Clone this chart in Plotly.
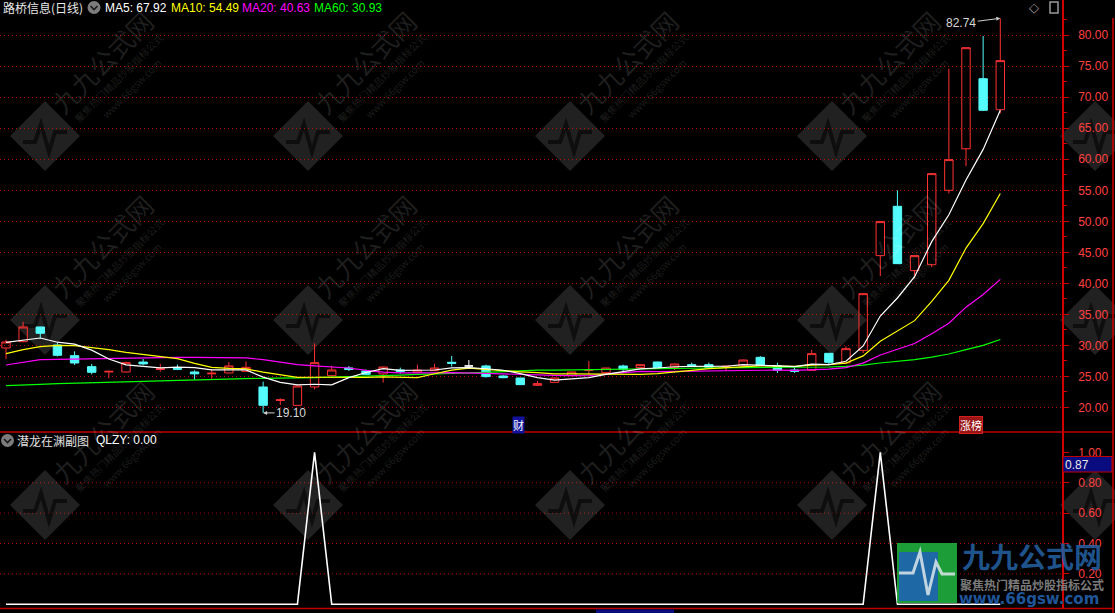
import plotly.graph_objects as go

# ---------------- data ----------------
idx = list(range(59))
open_ = [29.57, 30.59, 32.96, 30.05, 28.33, 26.56, 25.70, 25.70, 27.30, 26.10,
         26.25, 25.70, 25.40, 25.54, 25.80, 23.28, 21.10, 20.32, 23.28, 25.10,
         26.35, 25.86, 25.38, 26.02, 25.65, 25.91, 27.26, 26.67, 26.67, 25.05,
         24.73, 23.55, 24.03, 25.11, 25.97, 25.59, 26.67, 26.40, 27.31, 26.45,
         26.88, 26.88, 26.55, 26.67, 28.06, 26.72, 26.02, 25.97, 28.71, 27.15,
         29.19, 44.46, 52.42, 42.04, 43.00, 55.00, 61.70, 73.00, 68.00]
high = [30.90, 33.80, 33.00, 30.40, 29.03, 26.99, 25.97, 27.37, 27.80, 27.00,
        26.90, 25.97, 26.10, 27.30, 27.40, 24.14, 21.45, 23.50, 30.30, 26.72,
        26.67, 26.13, 26.55, 26.40, 26.88, 27.04, 28.28, 27.63, 26.88, 25.20,
        24.75, 24.25, 24.80, 25.75, 27.47, 26.40, 26.88, 26.95, 27.35, 27.05,
        27.20, 27.20, 26.70, 27.70, 28.28, 27.20, 26.34, 29.30, 28.75, 29.84,
        38.40, 50.00, 55.00, 44.50, 57.75, 74.60, 78.05, 79.90, 82.74]
low = [27.80, 30.50, 31.20, 28.20, 26.83, 25.32, 24.68, 25.60, 26.80, 25.75,
       26.00, 24.46, 24.60, 25.50, 25.75, 19.10, 20.38, 20.25, 22.90, 25.00,
       25.86, 25.20, 23.98, 25.43, 25.60, 25.85, 26.56, 26.29, 24.78, 24.70,
       23.60, 23.50, 23.95, 25.05, 25.22, 25.50, 25.75, 26.35, 26.30, 26.02,
       26.56, 26.40, 25.86, 26.60, 26.70, 25.54, 25.54, 25.90, 26.94, 27.10,
       28.76, 41.18, 43.10, 40.75, 42.60, 54.50, 58.90, 67.80, 67.40]
close = [30.54, 32.96, 31.94, 28.39, 27.15, 25.65, 25.80, 27.20, 27.00, 26.20,
         26.15, 25.40, 25.50, 26.67, 26.45, 20.32, 21.20, 23.44, 27.20, 26.02,
         26.10, 25.32, 26.50, 25.80, 26.02, 26.34, 27.10, 26.67, 24.95, 24.78,
         23.66, 23.82, 24.73, 25.70, 26.02, 26.34, 26.13, 26.88, 26.34, 26.99,
         26.72, 26.45, 26.62, 27.63, 26.77, 25.97, 25.81, 28.66, 27.26, 29.46,
         38.33, 49.95, 43.17, 44.46, 57.69, 59.95, 78.00, 67.90, 75.91]
ma5 = [30.48, 30.80, 31.18, 30.50, 30.20, 29.22, 27.79, 26.84, 26.56, 26.37,
       26.47, 26.39, 26.05, 25.98, 26.03, 24.87, 24.03, 23.62, 23.72, 23.63,
       24.79, 25.62, 26.23, 25.97, 25.97, 26.02, 26.37, 26.41, 26.22, 25.98,
       25.44, 24.79, 24.39, 24.54, 24.78, 25.32, 25.78, 26.21, 26.34, 26.54,
       26.61, 26.67, 26.62, 26.87, 26.83, 26.68, 26.55, 26.97, 26.89, 27.43,
       29.90, 34.73, 37.63, 41.07, 46.72, 51.05, 56.66, 61.60, 67.92]
ma10 = [28.66, 29.30, 29.78, 30.00, 29.95, 29.68, 29.30, 28.87, 28.55, 28.28,
        27.84, 27.09, 26.44, 26.27, 26.20, 25.67, 25.21, 24.83, 24.85, 24.83,
        24.83, 24.82, 24.92, 24.85, 24.80, 25.41, 26.00, 26.32, 26.10, 25.98,
        25.73, 25.58, 25.40, 25.38, 25.38, 25.38, 25.28, 25.30, 25.44, 25.66,
        25.96, 26.23, 26.41, 26.61, 26.68, 26.65, 26.61, 26.79, 26.88, 27.13,
        28.29, 30.64, 32.30, 33.98, 37.08, 40.47, 45.69, 49.62, 54.49]
ma20 = [26.83, 27.26, 27.69, 27.74, 27.80, 27.85, 27.90, 27.96, 28.00, 28.06,
        28.06, 28.06, 28.06, 28.06, 27.96, 27.69, 27.30, 26.88, 26.67, 26.56,
        26.34, 25.96, 25.68, 25.56, 25.50, 25.54, 25.60, 25.58, 25.47, 25.40,
        25.28, 25.20, 25.16, 25.11, 25.09, 25.39, 25.64, 25.81, 25.77, 25.82,
        25.85, 25.90, 25.91, 25.99, 26.03, 26.01, 25.95, 26.05, 26.16, 26.39,
        27.13, 28.43, 29.36, 30.29, 31.88, 33.56, 36.15, 38.20, 40.63]
ma60 = [23.50, 23.55, 23.71, 23.82, 23.87, 23.98, 24.03, 24.14, 24.19, 24.25,
        24.30, 24.40, 24.46, 24.57, 24.62, 24.68, 24.68, 24.73, 24.78, 24.89,
        24.95, 25.00, 25.10, 25.20, 25.30, 25.35, 25.45, 25.55, 25.65, 25.75,
        25.95, 26.00, 26.00, 26.05, 26.10, 26.12, 26.15, 26.20, 26.22, 26.25,
        26.30, 26.35, 26.38, 26.40, 26.40, 26.40, 26.42, 26.45, 26.50, 26.60,
        26.80, 27.15, 27.40, 27.70, 28.10, 28.60, 29.30, 30.00, 30.93]
qlzy = [0, 0, 0, 0, 0, 0, 0, 0, 0, 0,
        0, 0, 0, 0, 0, 0, 0, 0, 1, 0,
        0, 0, 0, 0, 0, 0, 0, 0, 0, 0,
        0, 0, 0, 0, 0, 0, 0, 0, 0, 0,
        0, 0, 0, 0, 0, 0, 0, 0, 0, 0,
        0, 1, 0, 0, 0, 0, 0, 0, 0]

price_ticks = [20, 25, 30, 35, 40, 45, 50, 55, 60, 65, 70, 75, 80]
price_minor = [22.5, 27.5, 32.5, 37.5, 42.5, 47.5, 52.5, 57.5, 62.5, 67.5, 72.5, 77.5, 82.5]
sub_ticks = [0.2, 0.4, 0.6, 0.8, 1.0]
sub_grid = [0.2, 0.4, 0.6, 0.8]

stock_title = "路桥信息(日线)"
ma_labels = ["MA5: 67.92", "MA10: 54.49", "MA20: 40.63", "MA60: 30.93"]
sub_title = "潜龙在渊副图"
sub_value = "QLZY: 0.00"
high_mark = (58, 82.74, "82.74")
low_mark = (15, 19.10, "19.10")
cursor_value = "0.87"

# ---------------- styling ----------------
RED = "#ff3232"
CYAN = "#54fcfc"
AXRED = "#d00000"
LBLRED = "#ff4040"
GRID = "#b00000"
FONT = "Liberation Sans, Arial, Noto Sans CJK SC, sans-serif"
CJK = "Noto Sans CJK SC, Liberation Sans, sans-serif"

W, H = 1115, 613
PL, PR, PT, PB = 0, 1062, 0, 609


def px(x):
    return (x - PL) / (PR - PL)


def py(y):
    return (PB - y) / (PB - PT)


split = py(432)

fig = go.Figure()

norm = [i for i in idx if open_[i] != close[i]]
doji = [i for i in idx if open_[i] == close[i]]
fig.add_trace(go.Candlestick(
    x=[idx[i] for i in norm], open=[open_[i] for i in norm], high=[high[i] for i in norm],
    low=[low[i] for i in norm], close=[close[i] for i in norm],
    increasing=dict(line=dict(color=RED, width=1), fillcolor="rgba(0,0,0,0)"),
    decreasing=dict(line=dict(color=CYAN, width=1), fillcolor=CYAN),
    whiskerwidth=0, xaxis="x", yaxis="y", hoverinfo="skip"))
if doji:
    fig.add_trace(go.Candlestick(
        x=[idx[i] for i in doji], open=[open_[i] for i in doji], high=[high[i] for i in doji],
        low=[low[i] for i in doji], close=[close[i] for i in doji],
        increasing=dict(line=dict(color="white", width=1), fillcolor="white"),
        decreasing=dict(line=dict(color="white", width=1), fillcolor="white"),
        whiskerwidth=0, xaxis="x", yaxis="y", hoverinfo="skip"))

for ser, col in [(ma60, "#00ff00"), (ma20, "#ff00ff"), (ma10, "#ffff00"), (ma5, "#ffffff")]:
    fig.add_trace(go.Scatter(x=idx, y=ser, mode="lines", line=dict(color=col, width=1.2),
                             xaxis="x", yaxis="y", hoverinfo="skip"))

fig.add_trace(go.Scatter(x=idx, y=qlzy, mode="lines", line=dict(color="white", width=1.6),
                         xaxis="x2", yaxis="y2", hoverinfo="skip"))

# ---------------- shapes ----------------
shapes = []
for v in sub_grid:
    shapes.append(dict(type="line", xref="paper", yref="y2", x0=0, x1=1, y0=v, y1=v,
                       line=dict(color=GRID, width=1, dash="1px,3px"), layer="below"))
shapes.append(dict(type="line", xref="paper", yref="paper", x0=px(0), x1=px(1114), y0=py(432), y1=py(432),
                   line=dict(color="#c00000", width=1.5)))
shapes.append(dict(type="line", xref="paper", yref="paper", x0=px(0), x1=px(1114), y0=py(608.5), y1=py(608.5),
                   line=dict(color="#c00000", width=1.5)))
shapes.append(dict(type="line", xref="paper", yref="paper", x0=px(1113), x1=px(1113), y0=py(613), y1=py(18),
                   line=dict(color=AXRED, width=1.5)))
shapes.append(dict(type="rect", xref="paper", yref="paper", x0=px(1050), x1=px(1058), y0=py(13), y1=py(2),
                   line=dict(color="#9a9a9a", width=1.5)))
for cx, cy in [(94, 7.5), (7.5, 440.5)]:
    shapes.append(dict(type="circle", xref="paper", yref="paper", x0=px(cx - 6.5), x1=px(cx + 6.5),
                       y0=py(cy + 6.5), y1=py(cy - 6.5), fillcolor="#7c7c7c", line=dict(width=0)))
    shapes.append(dict(type="path", xref="paper", yref="paper",
                       path=f"M {px(cx-3.5)},{py(cy-1.5)} L {px(cx)},{py(cy+2)} L {px(cx+3.5)},{py(cy-1.5)}",
                       line=dict(color="#1a1a1a", width=1.6)))
shapes.append(dict(type="rect", xref="paper", yref="paper", x0=px(1063), x1=px(1112), y0=py(472), y1=py(456.5),
                   fillcolor="#0b0b80", line=dict(color="#c00000", width=1)))
shapes.append(dict(type="rect", xref="paper", yref="paper", x0=px(596), x1=px(674), y0=py(613), y1=py(609.5),
                   fillcolor="#0b0b80", line=dict(width=0)))

# watermarks
WM_COLS = [45, 308, 570, 832, 1095]
WM_ROWS = [136, 320, 505]
WM_FILL = "rgba(255,255,255,0.13)"
WM_TEXT = "rgba(255,255,255,0.12)"
annotations = []
for cy in WM_ROWS:
    for cx in WM_COLS:
        r = 35
        shapes.append(dict(type="path", xref="paper", yref="paper", layer="below",
                           path=(f"M {px(cx)},{py(cy-r)} L {px(cx+r)},{py(cy)} L {px(cx)},{py(cy+r)} "
                                 f"L {px(cx-r)},{py(cy)} Z"),
                           fillcolor=WM_FILL, line=dict(width=0)))
        shapes.append(dict(type="path", xref="paper", yref="paper", layer="below",
                           path=(f"M {px(cx-22)},{py(cy+6)} L {px(cx-10)},{py(cy+6)} L {px(cx-4)},{py(cy-12)} "
                                 f"L {px(cx+4)},{py(cy+16)} L {px(cx+10)},{py(cy-4)} L {px(cx+22)},{py(cy-4)}"),
                           line=dict(color="rgba(0,0,0,0.55)", width=4)))
        if cx + 100 > W:
            continue
        for dx, dy, txt, sz in [(57, -74, "九九公式网", 26), (74, -58, "聚焦热门精品炒股指标公式", 10),
                                (86, -48, "www.66gsw.com", 10)]:
            annotations.append(dict(xref="paper", yref="paper", x=px(cx + dx), y=py(cy + dy), text=txt,
                                    xanchor="center", yanchor="middle",
                                    showarrow=False, textangle=-45,
                                    font=dict(family=CJK, size=sz, color=WM_TEXT)))

# site logo bottom-right
shapes.append(dict(type="rect", xref="paper", yref="paper", x0=px(897), x1=px(957), y0=py(603), y1=py(543),
                   fillcolor="rgba(30,170,60,0.92)", line=dict(width=0)))
shapes.append(dict(type="rect", xref="paper", yref="paper", x0=px(899), x1=px(938), y0=py(601), y1=py(552),
                   fillcolor="rgba(30,100,175,0.92)", line=dict(width=0)))
shapes.append(dict(type="path", xref="paper", yref="paper",
                   path=(f"M {px(899)},{py(573)} L {px(913)},{py(573)} L {px(920)},{py(552)} L {px(928)},{py(595)} "
                         f"L {px(936)},{py(562)} L {px(942)},{py(574)} L {px(955)},{py(574)}"),
                   line=dict(color="rgba(220,230,235,0.85)", width=3)))
annotations += [
    dict(xref="paper", yref="paper", x=px(1032), y=py(556), xanchor="center", yanchor="middle",
         text="<b>九九公式网</b>", showarrow=False,
         font=dict(family=CJK, size=28, color="rgba(35,95,160,0.88)")),
    dict(xref="paper", yref="paper", x=px(1032), y=py(584), xanchor="center", yanchor="middle",
         text="<b>聚焦热门精品炒股指标公式</b>", showarrow=False,
         font=dict(family=CJK, size=12, color="rgba(140,140,140,0.9)")),
    dict(xref="paper", yref="paper", x=px(1029), y=py(599), xanchor="center", yanchor="middle",
         text="<b>www.66gsw.com</b>", showarrow=False,
         font=dict(family="DejaVu Sans, sans-serif", size=15, color="rgba(35,95,170,0.92)")),
]

annotations.append(dict(xref="paper", yref="paper", x=px(1), y=py(7.5), xanchor="left", yanchor="middle",
                        text=stock_title, showarrow=False, font=dict(family=CJK, size=12, color="#e8e8e8")))
for txt, x0, col in zip(ma_labels, [103, 169, 240, 312], ["#ffffff", "#ffff00", "#ff00ff", "#00ff00"]):
    annotations.append(dict(xref="paper", yref="paper", x=px(x0), y=py(7.5), xanchor="left", yanchor="middle",
                            text=txt, showarrow=False, font=dict(family=FONT, size=12, color=col)))
annotations.append(dict(xref="paper", yref="paper", x=px(15), y=py(440.5), xanchor="left", yanchor="middle",
                        text=sub_title, showarrow=False, font=dict(family=CJK, size=12, color="#e0e0e0")))
annotations.append(dict(xref="paper", yref="paper", x=px(94), y=py(440.5), xanchor="left", yanchor="middle",
                        text=sub_value, showarrow=False, font=dict(family=FONT, size=12, color="#ffffff")))
annotations.append(dict(xref="paper", yref="paper", x=px(1034), y=py(8), xanchor="center", yanchor="middle",
                        text="◇", showarrow=False,
                        font=dict(family="DejaVu Sans", size=13, color="#9a9a9a")))
annotations.append(dict(xref="paper", yref="paper", x=px(1063), y=py(464.5), xanchor="left", yanchor="middle",
                        text=cursor_value, showarrow=False, font=dict(family=FONT, size=12, color="#e8e8e8")))
annotations.append(dict(xref="x", yref="y", x=high_mark[0], y=high_mark[1], text=high_mark[2], showarrow=True,
                        ax=-39, ay=5, arrowhead=2, arrowsize=0.8, arrowwidth=1, arrowcolor="#cfcfcf",
                        font=dict(family=FONT, size=12, color="#d8d8d8")))
annotations.append(dict(xref="x", yref="y", x=low_mark[0], y=low_mark[1], text=low_mark[2], showarrow=True,
                        ax=28, ay=0, arrowhead=2, arrowsize=0.8, arrowwidth=1, arrowcolor="#cfcfcf",
                        font=dict(family=FONT, size=12, color="#d8d8d8")))
annotations.append(dict(xref="x", yref="paper", x=29.9, y=py(424.5), xanchor="center", yanchor="middle",
                        text="财", showarrow=False,
                        bgcolor="#12129a", borderpad=0, font=dict(family=CJK, size=11, color="white")))
annotations.append(dict(xref="x", yref="paper", x=56.3, y=py(424.5), xanchor="center", yanchor="middle",
                        text="涨榜", showarrow=False,
                        bgcolor="#9a1414", bordercolor="#d02020", borderwidth=1, borderpad=0,
                        font=dict(family=CJK, size=11, color="white")))

fig.update_layout(
    width=W, height=H,
    margin=dict(l=PL, r=W - PR, t=PT, b=H - PB, autoexpand=False),
    paper_bgcolor="black", plot_bgcolor="black",
    showlegend=False, hovermode=False,
    font=dict(family=FONT, size=12, color="white"),
    xaxis=dict(domain=[0, 1], range=[-0.35, 61.6], showticklabels=False, showgrid=False,
               zeroline=False, showline=False, ticks="", rangeslider=dict(visible=False), anchor="y"),
    xaxis2=dict(domain=[0, 1], range=[-0.35, 61.6], matches="x", showticklabels=False, showgrid=False,
                zeroline=False, showline=False, ticks="", anchor="y2"),
    yaxis=dict(domain=[split, 1], range=[16.02, 85.69], side="right", anchor="x",
               tickmode="array", tickvals=price_ticks, ticktext=[f"{v:.2f}" for v in price_ticks],
               tickfont=dict(family=FONT, size=12, color=LBLRED), ticks="outside", ticklen=5,
               tickcolor=AXRED, ticklabelstandoff=7,
               showline=True, linecolor=AXRED, linewidth=1.5, zeroline=False,
               showgrid=True, gridcolor=GRID, gridwidth=1, griddash="1px,3px",
               minor=dict(tickvals=price_minor, ticks="outside", ticklen=3, tickcolor=AXRED, showgrid=False)),
    yaxis2=dict(domain=[0, split], range=[-0.031, 1.134], side="right", anchor="x2",
                tickmode="array", tickvals=sub_ticks, ticktext=[f"{v:.2f}" for v in sub_ticks],
                tickfont=dict(family=FONT, size=12, color=LBLRED), ticks="outside", ticklen=5,
                tickcolor=AXRED, ticklabelstandoff=7,
                showline=True, linecolor=AXRED, linewidth=1.5, zeroline=False, showgrid=False),
    shapes=shapes,
    annotations=annotations,
)

fig.write_html("out.html", config={"displayModeBar": False},
               post_script="document.body.style.margin='0';document.body.style.background='black';")
